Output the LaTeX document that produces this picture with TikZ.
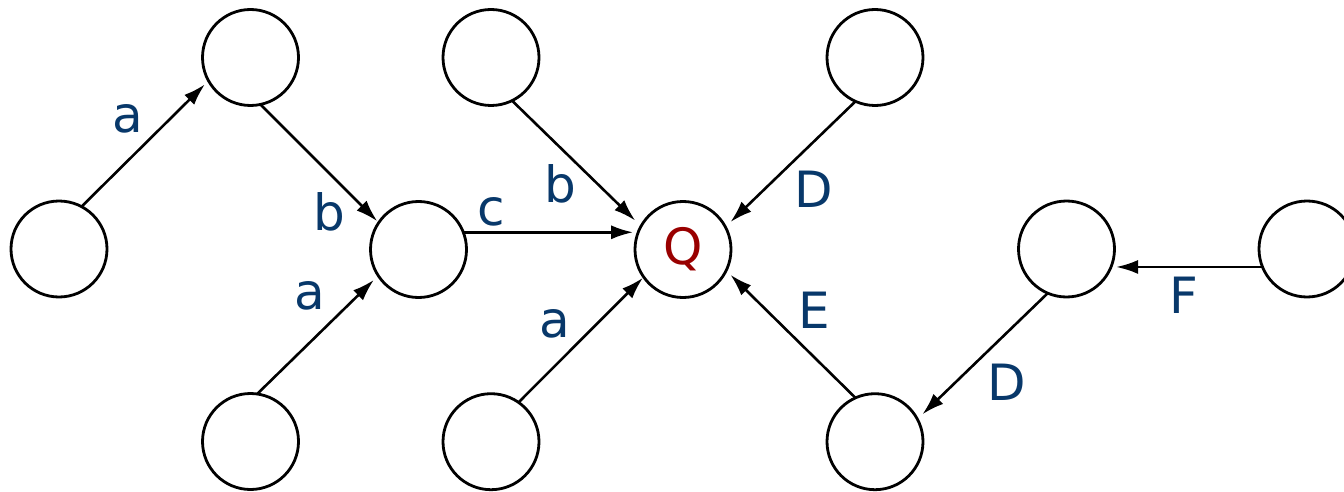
\documentclass[tikz,border=0pt]{standalone}
\usepackage{fontspec}
\setmainfont{DejaVu Sans}
\usetikzlibrary{arrows.meta,calc}
\definecolor{lblblue}{RGB}{8,56,106}
\definecolor{qred}{RGB}{153,0,0}
\begin{document}
\begin{tikzpicture}[x=0.5pt,y=-0.5pt,
  state/.style={circle,draw,line width=1.4pt,minimum size=48pt,inner sep=0pt,outer sep=0pt},
  edge/.style={line width=1.3pt,-{Latex[length=11pt,width=7pt]}},
  lbl/.style={text=lblblue,font=\fontsize{25}{30}\selectfont,inner sep=0pt}]
\useasboundingbox (0,0) rectangle (1344,492);

% states
\node[state] (l1) at (59,249) {};
\node[state] (a1) at (250.5,57.5) {};
\node[state] (b1) at (418.5,249.5) {};
\node[state] (d1) at (250.5,441.5) {};
\node[state] (t2) at (491,57.5) {};
\node[state] (d2) at (491,441.7) {};
\node[state,text=qred,font=\fontsize{25}{30}\selectfont] (q) at (683,249.5) {Q};
\node[state] (t3) at (875,57.5) {};
\node[state] (d3) at (875,441.7) {};
\node[state] (r1) at (1066.5,249) {};
\node[state] (r2) at (1307,249) {};

% transitions
\draw[edge,shorten >=2.5pt] (l1.62) -- (a1.-151);
\draw[edge,shorten >=1pt] (a1.-78) -- (b1.146.5);
\draw[edge,shorten >=3pt] (d1.82) -- (b1.-147);
\draw[edge,shorten >=2.5pt] (b1.21) -- (q.159);
\draw[edge,shorten >=4pt] (t2.-64) -- (q.151);
\draw[edge,shorten >=3.5pt] (t3.-114) -- (q.28);
\draw[edge,shorten >=0.5pt] (d2.55) -- (q.-145);
\draw[edge,shorten >=3pt] (d3.114) -- (q.-26);
\draw[edge,shorten >=3.5pt] (r1.-113) -- (d3.28);
\draw[edge,shorten >=2.5pt] (r2.202) -- (r1.-22);

% labels
\node[lbl] (la1) at (128,119) {a};
\node[lbl] (lb1) at (329,212) {b};
\node[lbl] (la2) at (309.5,296) {a};
\node[lbl] (lc)  at (491.5,212) {c};
\node[lbl] (lb2) at (560,183.5) {b};
\node[lbl] (lD1) at (813.5,189) {D};
\node[lbl] (la3) at (554.5,324) {a};
\node[lbl] (lE)  at (814,310) {E};
\node[lbl] (lD2) at (1007,382) {D};
\node[lbl] (lF)  at (1184,295.5) {F};
\end{tikzpicture}
\end{document}
